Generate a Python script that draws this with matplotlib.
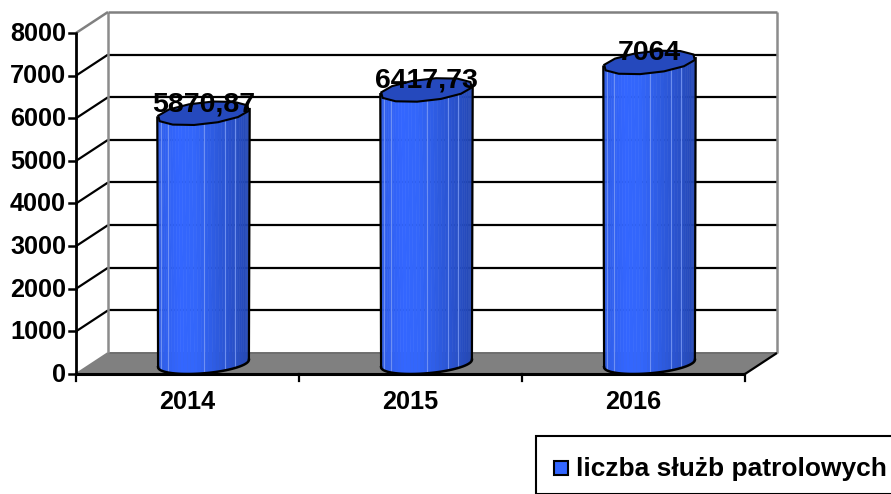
import numpy as np
import matplotlib
matplotlib.use('Agg')
import matplotlib.pyplot as plt
from matplotlib.patches import Polygon, Rectangle
from matplotlib.colors import LinearSegmentedColormap

# dane
lata = ['2014', '2015', '2016']
wartosci = [5870.87, 6417.73, 7064]
etykiety = ['5870,87', '6417,73', '7064']
y_ticks = [0, 1000, 2000, 3000, 4000, 5000, 6000, 7000, 8000]
legenda = 'liczba służb patrolowych'

plt.rcParams['font.family'] = ['Liberation Sans', 'DejaVu Sans']
plt.rcParams['font.weight'] = 'bold'

W, H = 891, 494
fig = plt.figure(figsize=(W / 100, H / 100), dpi=100)

# przednia plaszczyzna wykresu: x 76-745 px, y 33-374 px
ax = fig.add_axes([76 / W, 1 - 374 / H, 669 / W, 341 / H])
ax.set_xlim(0, 3)
ax.set_ylim(0, 8000)
ax.axis('off')

# przesuniecie "glebokosci" 3D
DX = 32 / 223
DY = 21 * 8000 / 341
R = 42.5 / 223


def rzut(x, y, d):
    return x + d * DX, y + d * DY


def plaska(punkty, **kw):
    ax.add_patch(Polygon(punkty, closed=True, clip_on=False, **kw))


def linia(a, b, kolor='black', lw=1.6, z=3):
    ax.plot([a[0], b[0]], [a[1], b[1]], color=kolor, lw=lw, clip_on=False,
            zorder=z, solid_capstyle='butt')


# podloga
plaska([rzut(0, 0, 0), rzut(3, 0, 0), rzut(3, 0, 1), rzut(0, 0, 1)],
       facecolor='#808080', edgecolor='none', zorder=1)
linia(rzut(0, 0, 0), rzut(0, 0, 1), '#808080', 1.4, 2)
linia(rzut(0, 0, 1), rzut(3, 0, 1), '#6e6e6e', 1.4, 2)

# siatka
for t in y_ticks[1:-1]:
    linia(rzut(0, t, 0), rzut(0, t, 1))
    linia(rzut(0, t, 1), rzut(3, t, 1))

# rama sciany tylnej
linia(rzut(0, 0, 1), rzut(0, 8000, 1), '#8c8c8c', 1.8)
linia(rzut(3, 0, 1), rzut(3, 8000, 1), '#8c8c8c', 1.8)
linia(rzut(0, 8000, 1), rzut(3, 8000, 1), '#808080', 1.8)
linia(rzut(0, 8000, 0), rzut(0, 8000, 1), '#808080', 1.8)
linia(rzut(3, 0, 0), rzut(3, 0, 1), 'black', 1.6, 3)

# osie
linia((0, 0), (0, 8000), 'black', 2, 6)
linia((0, 0), (3, 0), 'black', 2.2, 6)
for t in y_ticks:
    ax.plot([-7 / 223, 0], [t, t], color='black', lw=1.8, clip_on=False, zorder=6)
    ax.text(-10 / 223, t - 20, str(t), ha='right', va='center', fontsize=18.2, zorder=7)
for i in range(4):
    ax.plot([i, i], [0, -7 * 8000 / 341], color='black', lw=1.6, clip_on=False, zorder=6)
for i, rok in enumerate(lata):
    ax.text(i + 0.5, -28 * 8000 / 341, rok, ha='center', va='center', fontsize=18.2)

# cylindry
cmap = LinearSegmentedColormap.from_list(
    'walec', [(0, '#2f5de6'), (0.25, '#3366ff'), (0.42, '#3366fa'),
              (0.75, '#2b55d4'), (1, '#2448b4')])
kat_l = np.pi + np.arctan2(DX * 0.5, R)
kat_p = np.arctan2(DX * 0.5, R)
kat_front = np.linspace(kat_l, 2 * np.pi + kat_p, 40)
# jasne linie na walcu, jako ulamek szerokosci
jasne = [0.03, 0.11, 0.50, 0.74, 0.85]


def elipsa(cx, y, katy, skala=0.5):
    return np.array([rzut(cx + R * np.cos(k), y, 0.5 + skala * np.sin(k)) for k in katy])


for i, v in enumerate(wartosci):
    cx = i + 0.5
    dol = elipsa(cx, 0, kat_front)
    gora = elipsa(cx, v, kat_front, 0.57)
    xmin, xmax = dol[:, 0].min(), dol[:, 0].max()
    for j in range(len(kat_front) - 1):
        frac = (dol[j, 0] + dol[j + 1, 0]) / 2
        frac = (frac - xmin) / (xmax - xmin)
        plaska([dol[j], dol[j + 1], gora[j + 1], gora[j]],
               facecolor=cmap(frac), edgecolor=cmap(frac), lw=0.4, zorder=4)
    for f in jasne:
        x = xmin + f * (xmax - xmin)
        y0 = np.interp(x, dol[:, 0], dol[:, 1])
        y1 = np.interp(x, gora[:, 0], gora[:, 1])
        ax.plot([x, x], [y0, y1], color='#7f9df5', lw=0.8, alpha=0.8, zorder=4.5)
    # kontur boczny i dolny
    ax.plot(dol[:, 0], dol[:, 1], color='black', lw=1.8, clip_on=False, zorder=5)
    ax.plot([dol[0, 0], gora[0, 0]], [dol[0, 1], gora[0, 1]], color='black', lw=1.6, zorder=5)
    ax.plot([dol[-1, 0], gora[-1, 0]], [dol[-1, 1], gora[-1, 1]], color='black', lw=1.6, zorder=5)
    # wierzch, lekko kanciasty jak w oryginale
    wierzch = elipsa(cx, v, np.linspace(0, 2 * np.pi, 13)[:-1] + 0.2, 0.57)
    plaska(wierzch, facecolor='#2549bd', edgecolor='black', lw=1.5, zorder=5)
    xl, yl = rzut(cx, v, 0.5)
    ax.text(xl, yl + 9 * 8000 / 341, etykiety[i], ha='center', va='center',
            fontsize=20.5, zorder=8)

# legenda
fig.add_artist(Rectangle((536 / W, 0), 360 / W, 1 - 436 / H, transform=fig.transFigure,
                         facecolor='white', edgecolor='black', lw=1.5))
fig.add_artist(Rectangle((554 / W, 1 - 475 / H), 14 / W, 14 / H, transform=fig.transFigure,
                         facecolor='#3366ff', edgecolor='black', lw=1.5))
fig.text(576 / W, 1 - 469 / H, legenda, ha='left', va='center', fontsize=19)

fig.savefig('out.png', dpi=100, facecolor='white')
